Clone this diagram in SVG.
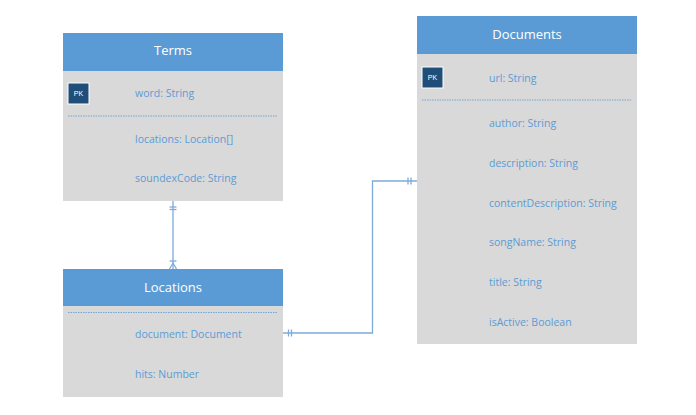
<svg xmlns="http://www.w3.org/2000/svg" width="696" height="415" viewBox="0 0 696 415">
<style>
.hdr{fill:#5B9BD5}
.body{fill:#D9D9D9}
.title{font-family:"Open Sans","Liberation Sans",sans-serif;font-size:13px;fill:#FFFFFF;text-anchor:middle}
.attr{font-family:"Open Sans","Liberation Sans",sans-serif;font-size:10.5px;fill:#5B9BD5}
.pk{fill:#1F4E79;stroke:#FFFFFF;stroke-width:1}
.pkt{font-family:"Liberation Sans",sans-serif;font-size:7px;fill:#FFFFFF;text-anchor:middle}
.sep{stroke:#5B9BD5;stroke-width:0.8;stroke-dasharray:1.5 1}
.conn{fill:none;stroke:#7FAADC;stroke-width:1.3}
</style>
<rect width="696" height="415" fill="#FFFFFF"/>
<g id="terms">
<rect class="body" x="63" y="70" width="220" height="131"/>
<rect class="hdr" x="63" y="33" width="220" height="38"/>
<text class="title" x="173" y="55">Terms</text>
<rect class="pk" x="68" y="83" width="21" height="21"/>
<text class="pkt" x="78.5" y="96">PK</text>
<text class="attr" x="135" y="97">word: String</text>
<line class="sep" x1="68" y1="116" x2="278" y2="116"/>
<text class="attr" x="135" y="143">locations: Location[]</text>
<text class="attr" x="135" y="182">soundexCode: String</text>
</g>
<g id="locations">
<rect class="body" x="63" y="306" width="220" height="91"/>
<rect class="hdr" x="63" y="269" width="220" height="37"/>
<text class="title" x="173" y="292">Locations</text>
<line class="sep" x1="68" y1="312.5" x2="278" y2="312.5"/>
<text class="attr" x="135" y="338">document: Document</text>
<text class="attr" x="135" y="378">hits: Number</text>
</g>
<g id="documents">
<rect class="body" x="417" y="54" width="220" height="290"/>
<rect class="hdr" x="417" y="16" width="220" height="38"/>
<text class="title" x="527" y="39">Documents</text>
<rect class="pk" x="422" y="67" width="21" height="21"/>
<text class="pkt" x="432.5" y="80">PK</text>
<text class="attr" x="489" y="82">url: String</text>
<line class="sep" x1="422" y1="100" x2="632" y2="100"/>
<text class="attr" x="489" y="127">author: String</text>
<text class="attr" x="489" y="167">description: String</text>
<text class="attr" x="489" y="207">contentDescription: String</text>
<text class="attr" x="489" y="246">songName: String</text>
<text class="attr" x="489" y="286">title: String</text>
<text class="attr" x="489" y="326">isActive: Boolean</text>
</g>
<g id="connectors">
<line class="conn" x1="173" y1="201" x2="173" y2="269"/>
<line class="conn" x1="169.5" y1="207" x2="176.5" y2="207"/>
<line class="conn" x1="169.5" y1="209.5" x2="176.5" y2="209.5"/>
<line class="conn" x1="169.5" y1="261" x2="176.5" y2="261"/>
<path class="conn" d="M169.5 269 L173 263 L176.5 269"/>
<path class="conn" d="M283 333 H372.5 V181 H417"/>
<line class="conn" x1="288.5" y1="329.5" x2="288.5" y2="336.5"/>
<line class="conn" x1="291.5" y1="329.5" x2="291.5" y2="336.5"/>
<line class="conn" x1="408" y1="177.5" x2="408" y2="184.5"/>
<line class="conn" x1="411" y1="177.5" x2="411" y2="184.5"/>
</g>
</svg>
